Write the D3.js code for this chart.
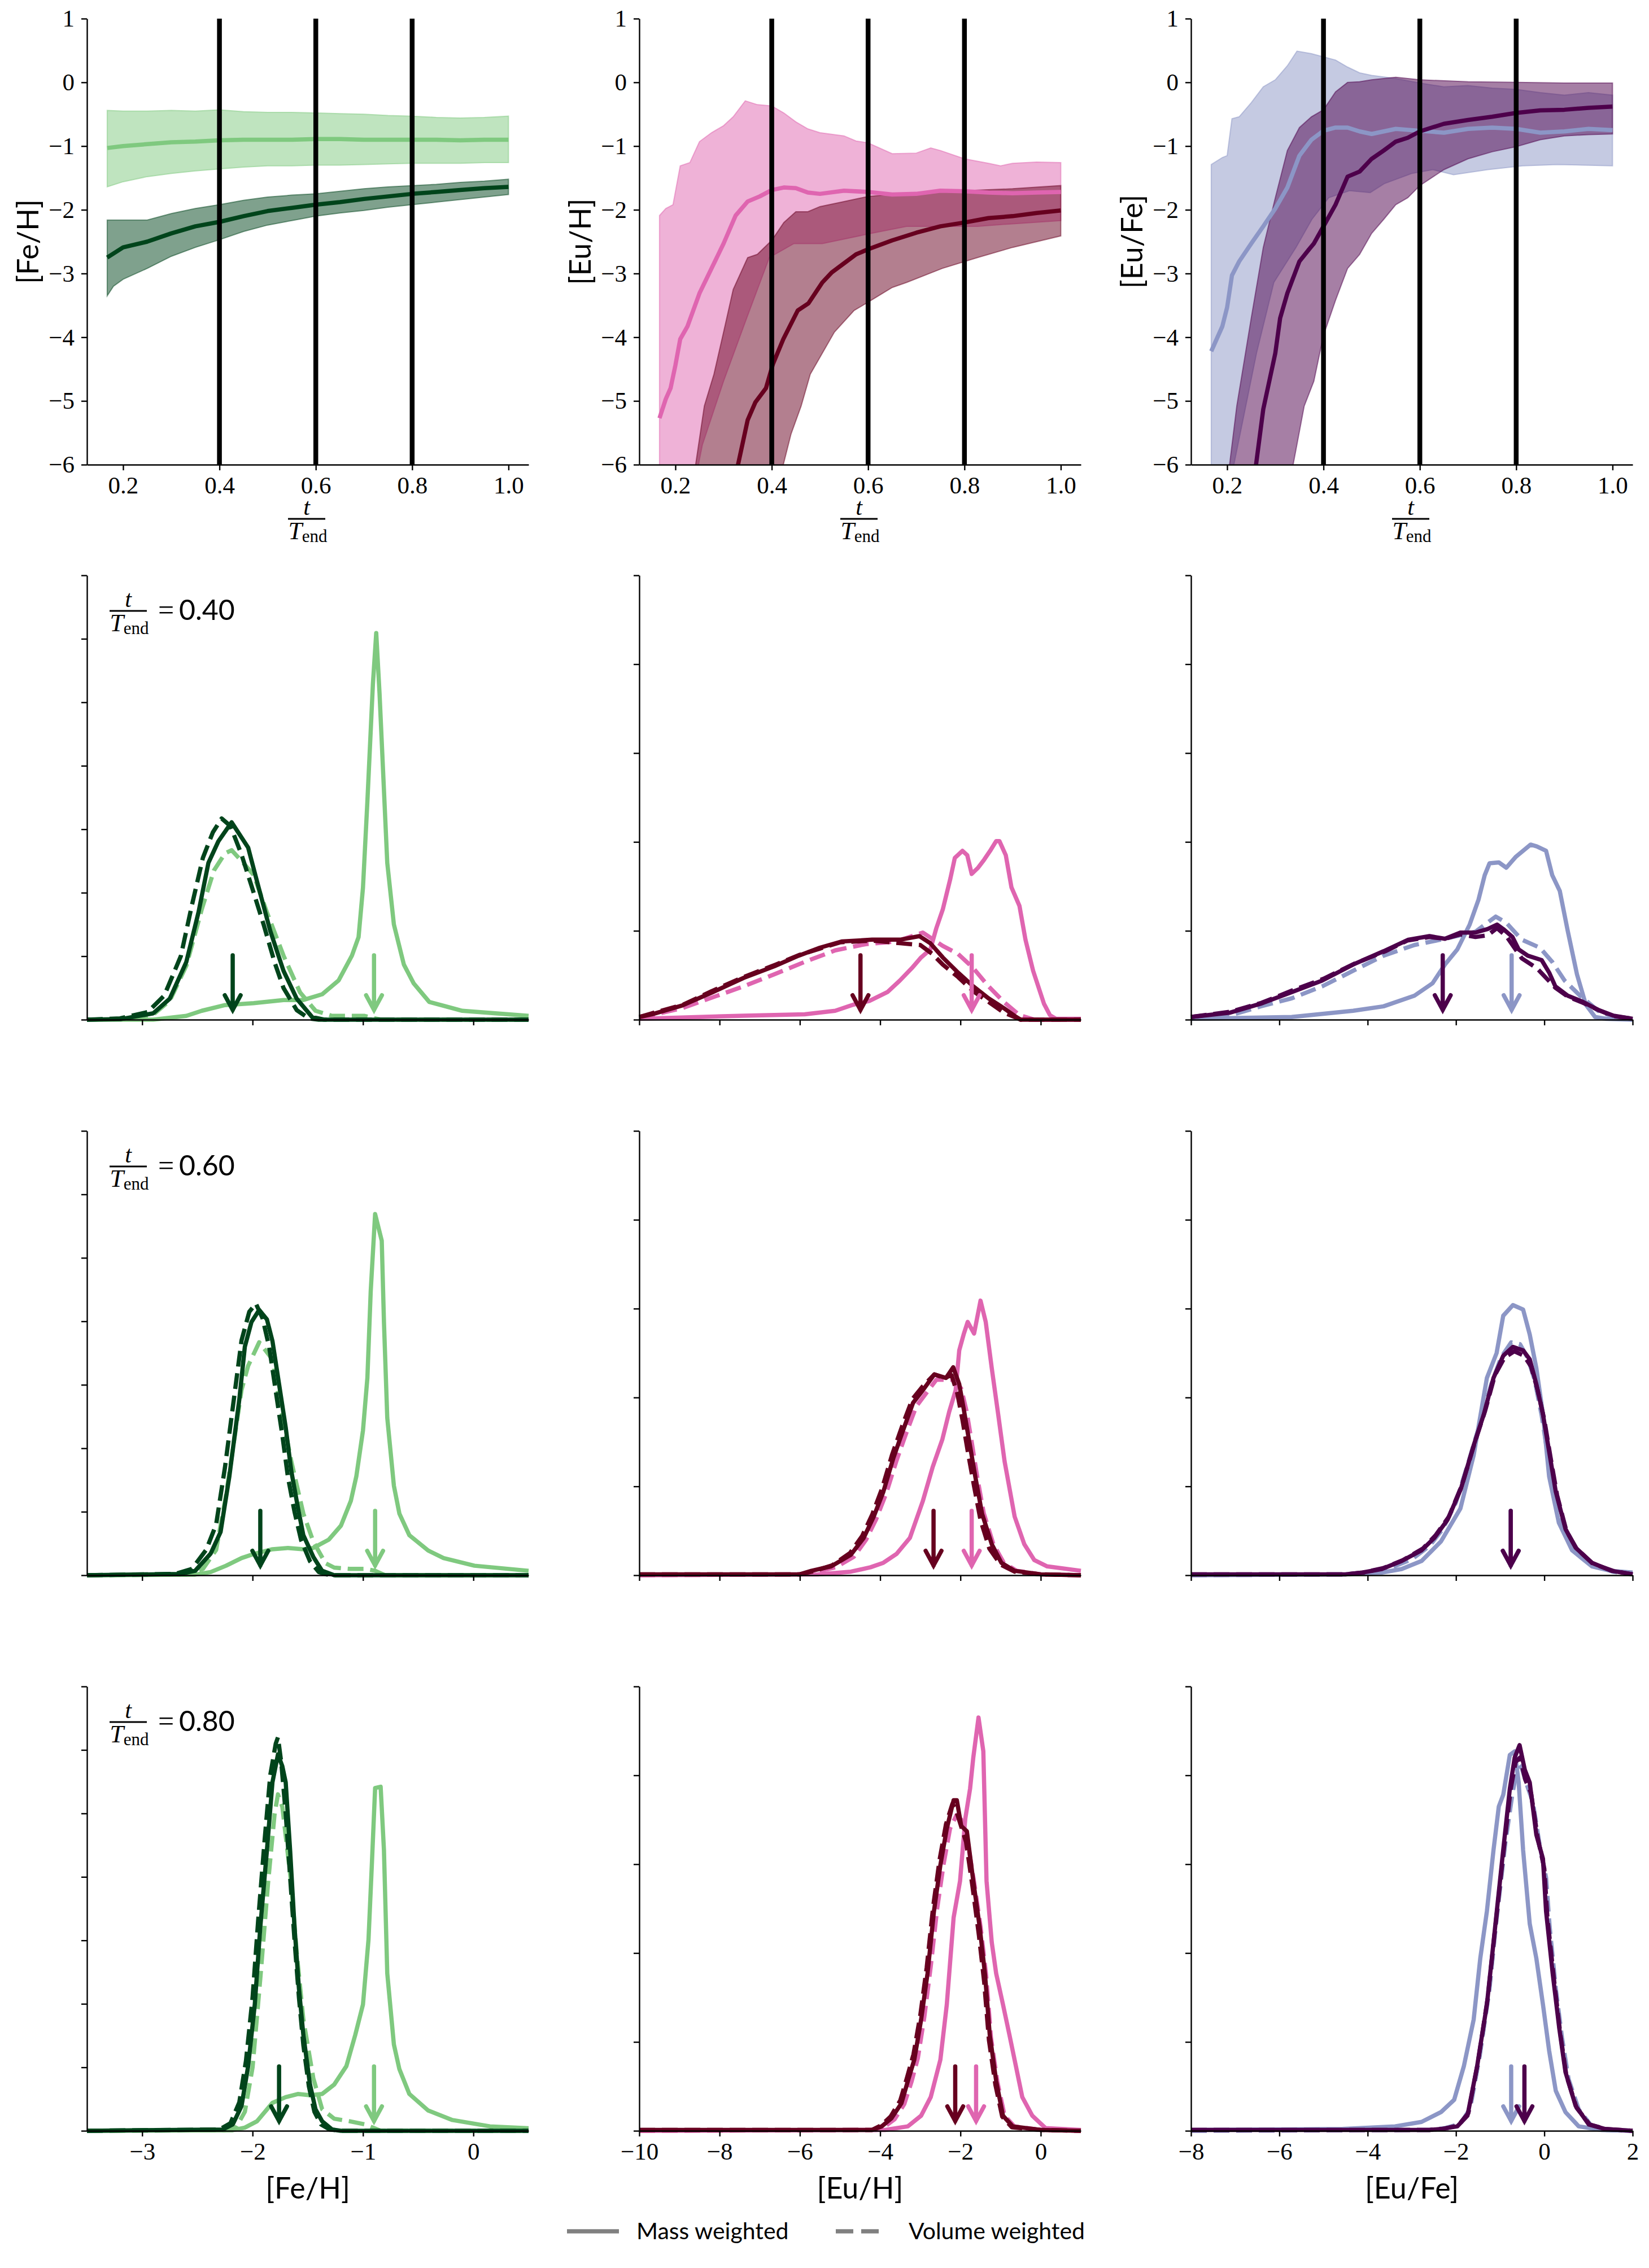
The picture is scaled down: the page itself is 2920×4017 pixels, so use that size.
<!DOCTYPE html>
<html>
<head>
<meta charset="utf-8">
<script src="https://cdn.jsdelivr.net/npm/d3@7"></script>
<style>
  body { margin: 0; background: #fff; }
</style>
</head>
<body>
<script>
// ---------- layout ----------
const W = 2920, H = 4017;
const colX = [154, 1132, 2109], panelW = 782;
const topY = 33, topH = 790;
const histY = [1019, 2003, 2987], histH = 787;
const SERIF = "'Liberation Serif', 'DejaVu Serif', serif";
const SANS = "Lato, 'Open Sans', sans-serif";

// ---------- colours ----------
const feLightC = "#7fc97f", feDarkC = "#00441b";
const euhLightC = "#df65b0", euhDarkC = "#67001f";
const eufeLightC = "#8c96c6", eufeDarkC = "#4d004b";

// ---------- top row: time evolution (t/Tend, value) ----------
const snapTimes = [0.4, 0.6, 0.8];
const tTicks = [0.2, 0.4, 0.6, 0.8, 1.0];
const topYTicks = [-6, -5, -4, -3, -2, -1, 0, 1];

const feLightMed = [[0.167,-1.03],[0.2,-1.0],[0.25,-0.97],[0.3,-0.94],[0.35,-0.93],[0.4,-0.91],[0.45,-0.9],[0.5,-0.9],[0.55,-0.9],[0.6,-0.89],[0.65,-0.89],[0.7,-0.9],[0.75,-0.9],[0.8,-0.9],[0.85,-0.9],[0.9,-0.91],[0.95,-0.9],[1.0,-0.9]];
const feLightHi = [[0.167,-0.44],[0.2,-0.45],[0.25,-0.45],[0.3,-0.44],[0.35,-0.45],[0.4,-0.43],[0.45,-0.46],[0.5,-0.47],[0.55,-0.47],[0.6,-0.48],[0.65,-0.49],[0.7,-0.5],[0.75,-0.52],[0.8,-0.53],[0.85,-0.55],[0.9,-0.56],[0.95,-0.55],[1.0,-0.53]];
const feLightLo = [[0.167,-1.64],[0.2,-1.56],[0.25,-1.48],[0.3,-1.43],[0.35,-1.39],[0.4,-1.36],[0.45,-1.33],[0.5,-1.31],[0.55,-1.31],[0.6,-1.30],[0.65,-1.30],[0.7,-1.29],[0.75,-1.28],[0.8,-1.27],[0.85,-1.27],[0.9,-1.27],[0.95,-1.26],[1.0,-1.26]];
const feDarkMed = [[0.167,-2.75],[0.2,-2.59],[0.25,-2.50],[0.3,-2.37],[0.35,-2.26],[0.4,-2.19],[0.45,-2.10],[0.5,-2.02],[0.55,-1.97],[0.6,-1.92],[0.65,-1.88],[0.7,-1.83],[0.75,-1.79],[0.8,-1.75],[0.85,-1.72],[0.9,-1.69],[0.95,-1.66],[1.0,-1.64]];
const feDarkHi = [[0.167,-2.16],[0.2,-2.16],[0.25,-2.16],[0.3,-2.06],[0.35,-1.98],[0.4,-1.92],[0.45,-1.85],[0.5,-1.80],[0.55,-1.77],[0.6,-1.75],[0.65,-1.71],[0.7,-1.67],[0.75,-1.64],[0.8,-1.62],[0.85,-1.60],[0.9,-1.57],[0.95,-1.55],[1.0,-1.52]];
const feDarkLo = [[0.167,-3.35],[0.18,-3.2],[0.2,-3.09],[0.25,-2.92],[0.3,-2.73],[0.35,-2.59],[0.4,-2.47],[0.45,-2.34],[0.5,-2.24],[0.55,-2.17],[0.6,-2.10],[0.65,-2.05],[0.7,-2.01],[0.75,-1.96],[0.8,-1.92],[0.85,-1.88],[0.9,-1.84],[0.95,-1.80],[1.0,-1.76]];

const euhLightMed = [[0.167,-5.27],[0.18,-4.97],[0.19,-4.80],[0.2,-4.44],[0.21,-4.03],[0.225,-3.83],[0.25,-3.31],[0.275,-2.92],[0.3,-2.53],[0.325,-2.09],[0.35,-1.87],[0.375,-1.79],[0.4,-1.69],[0.425,-1.65],[0.45,-1.66],[0.475,-1.73],[0.5,-1.75],[0.55,-1.70],[0.6,-1.72],[0.65,-1.76],[0.7,-1.75],[0.75,-1.70],[0.8,-1.71],[0.85,-1.73],[0.9,-1.74],[0.95,-1.73],[1.0,-1.72]];
const euhLightHi = [[0.167,-2.09],[0.18,-1.98],[0.195,-1.92],[0.21,-1.31],[0.23,-1.26],[0.25,-0.93],[0.275,-0.79],[0.3,-0.68],[0.32,-0.54],[0.345,-0.29],[0.37,-0.35],[0.4,-0.37],[0.425,-0.48],[0.45,-0.62],[0.475,-0.73],[0.5,-0.79],[0.55,-0.84],[0.575,-0.92],[0.6,-0.95],[0.65,-1.12],[0.7,-1.11],[0.73,-1.03],[0.75,-1.07],[0.8,-1.20],[0.85,-1.27],[0.875,-1.31],[0.9,-1.27],[0.95,-1.25],[1.0,-1.26]];
const euhLightLo = [[0.167,-7],[0.24,-6.3],[0.256,-5.69],[0.3,-4.69],[0.348,-3.70],[0.395,-2.75],[0.446,-2.53],[0.505,-2.53],[0.607,-2.37],[0.68,-2.26],[0.827,-2.26],[0.9,-2.22],[1.0,-2.17]];
const euhDarkMed = [[0.325,-6.3],[0.33,-6],[0.35,-5.3],[0.366,-5.02],[0.388,-4.80],[0.4025,-4.42],[0.424,-4.03],[0.454,-3.58],[0.476,-3.47],[0.505,-3.14],[0.525,-2.98],[0.55,-2.84],[0.575,-2.70],[0.6,-2.62],[0.65,-2.48],[0.7,-2.36],[0.75,-2.26],[0.8,-2.20],[0.85,-2.13],[0.9,-2.10],[0.95,-2.05],[1.0,-2.01]];
const euhDarkHi = [[0.235,-6.5],[0.242,-6],[0.26,-5.08],[0.28,-4.58],[0.3,-3.92],[0.32,-3.25],[0.35,-2.75],[0.37,-2.70],[0.4,-2.48],[0.425,-2.20],[0.45,-2.03],[0.475,-2.03],[0.5,-1.95],[0.55,-1.87],[0.6,-1.79],[0.7,-1.73],[0.8,-1.70],[0.9,-1.67],[1.0,-1.62]];
const euhDarkLo = [[0.42,-6.5],[0.424,-6],[0.44,-5.52],[0.461,-5.08],[0.48,-4.58],[0.505,-4.25],[0.53,-3.92],[0.571,-3.58],[0.6,-3.45],[0.65,-3.22],[0.68,-3.14],[0.754,-2.92],[0.827,-2.75],[0.9,-2.59],[1.0,-2.41]];

const eufeLightMed = [[0.167,-4.22],[0.19,-3.83],[0.2,-3.53],[0.21,-3.03],[0.225,-2.81],[0.25,-2.53],[0.275,-2.26],[0.3,-1.98],[0.325,-1.65],[0.35,-1.15],[0.375,-0.90],[0.4,-0.76],[0.425,-0.71],[0.45,-0.71],[0.475,-0.77],[0.5,-0.81],[0.55,-0.73],[0.6,-0.76],[0.65,-0.79],[0.7,-0.73],[0.75,-0.71],[0.8,-0.73],[0.85,-0.79],[0.9,-0.77],[0.95,-0.73],[1.0,-0.75]];
const eufeLightHi = [[0.167,-1.29],[0.19,-1.18],[0.2,-1.15],[0.21,-0.57],[0.225,-0.54],[0.25,-0.32],[0.275,-0.07],[0.3,0.04],[0.325,0.26],[0.345,0.49],[0.375,0.45],[0.4,0.40],[0.425,0.35],[0.45,0.24],[0.475,0.15],[0.5,0.11],[0.55,0.06],[0.6,-0.01],[0.65,-0.07],[0.7,-0.05],[0.75,-0.09],[0.8,-0.11],[0.85,-0.16],[0.9,-0.20],[0.95,-0.16],[1.0,-0.20]];
const eufeLightLo = [[0.167,-7],[0.21,-6.3],[0.214,-6],[0.261,-4.25],[0.297,-3.14],[0.343,-2.59],[0.376,-2.15],[0.411,-1.81],[0.454,-1.70],[0.497,-1.73],[0.526,-1.59],[0.583,-1.43],[0.627,-1.37],[0.67,-1.45],[0.741,-1.37],[0.813,-1.31],[0.885,-1.29],[1.0,-1.31]];
const eufeDarkMed = [[0.255,-6.3],[0.26,-6],[0.275,-5.13],[0.3,-4.25],[0.31,-3.70],[0.325,-3.31],[0.35,-2.81],[0.37,-2.62],[0.38,-2.53],[0.4,-2.26],[0.425,-1.92],[0.45,-1.48],[0.475,-1.40],[0.5,-1.20],[0.525,-1.07],[0.55,-0.93],[0.575,-0.87],[0.6,-0.77],[0.65,-0.65],[0.7,-0.59],[0.75,-0.54],[0.8,-0.48],[0.85,-0.44],[0.9,-0.43],[0.95,-0.40],[1.0,-0.38]];
const eufeDarkHi = [[0.2,-6.5],[0.205,-6],[0.22,-5.08],[0.25,-3.70],[0.275,-2.59],[0.3,-1.81],[0.325,-1.07],[0.35,-0.71],[0.375,-0.54],[0.4,-0.43],[0.425,-0.15],[0.45,0.0],[0.475,0.01],[0.5,0.04],[0.55,0.08],[0.6,0.04],[0.7,0.01],[0.8,0.0],[0.9,-0.01],[1.0,-0.01]];
const eufeDarkLo = [[0.335,-6.5],[0.337,-6],[0.36,-5.08],[0.38,-4.69],[0.4,-3.97],[0.425,-3.42],[0.45,-2.92],[0.475,-2.70],[0.5,-2.37],[0.525,-2.15],[0.55,-1.92],[0.575,-1.81],[0.6,-1.62],[0.65,-1.37],[0.7,-1.20],[0.75,-1.09],[0.8,-1.01],[0.85,-0.90],[0.9,-0.84],[0.95,-0.82],[1.0,-0.81]];

// ---------- histograms: (value, density in tick units) ----------
const histXDomains = [[-3.5, 0.5], [-10, 1], [-8, 2]];
const histXTicks = [[-3, -2, -1, 0], [-10, -8, -6, -4, -2, 0], [-8, -6, -4, -2, 0, 2]];
const histYTop = [7, 5, 5];
const snapLabels = ["0.40", "0.60", "0.80"];
const histXLabels = ["[Fe/H]", "[Eu/H]", "[Eu/Fe]"];

// [Fe/H], t = 0.40
const fe40LightMass = [[-3.5,0],[-2.9,0],[-2.6,0.06],[-2.46,0.14],[-2.25,0.23],[-1.99,0.26],[-1.72,0.31],[-1.54,0.31],[-1.37,0.40],[-1.22,0.62],[-1.10,1.01],[-1.04,1.30],[-1.0,2.08],[-0.96,3.44],[-0.91,5.29],[-0.88,6.09],[-0.85,5.14],[-0.78,2.47],[-0.72,1.5],[-0.63,0.87],[-0.54,0.57],[-0.40,0.28],[-0.10,0.14],[0.5,0.06]];
const fe40LightVol = [[-3.5,0],[-3.2,0.01],[-2.9,0.08],[-2.75,0.3],[-2.6,0.85],[-2.46,1.74],[-2.35,2.35],[-2.25,2.62],[-2.19,2.67],[-2.1,2.5],[-1.99,2.28],[-1.87,1.69],[-1.72,1.01],[-1.57,0.43],[-1.43,0.14],[-1.28,0.06],[-0.99,0.06],[-0.84,0],[0.5,0]];
const fe40DarkMass = [[-3.5,0],[-3.19,0.01],[-2.9,0.1],[-2.75,0.33],[-2.6,0.91],[-2.49,1.69],[-2.40,2.47],[-2.31,2.81],[-2.19,3.11],[-2.04,2.71],[-1.96,2.18],[-1.84,1.40],[-1.72,0.77],[-1.60,0.33],[-1.46,0.04],[-1.35,0],[0.5,0]];
const fe40DarkVol = [[-3.5,0],[-3.2,0.02],[-2.95,0.12],[-2.8,0.38],[-2.65,1.0],[-2.55,1.8],[-2.45,2.55],[-2.36,2.95],[-2.28,3.17],[-2.2,3.05],[-2.1,2.6],[-1.99,2.0],[-1.9,1.5],[-1.8,0.9],[-1.72,0.5],[-1.6,0.15],[-1.49,0.02],[-1.4,0],[0.5,0]];
const fe40Medians = [-2.18, -0.90];

// [Fe/H], t = 0.60
const fe60LightMass = [[-3.5,0],[-2.52,0.01],[-2.38,0.05],[-2.24,0.15],[-2.10,0.27],[-1.98,0.34],[-1.82,0.41],[-1.68,0.43],[-1.54,0.41],[-1.45,0.43],[-1.31,0.56],[-1.20,0.78],[-1.11,1.17],[-1.06,1.56],[-1.00,2.28],[-0.96,3.11],[-0.93,4.47],[-0.89,5.69],[-0.83,5.27],[-0.81,3.99],[-0.78,2.48],[-0.72,1.41],[-0.67,0.97],[-0.58,0.63],[-0.41,0.39],[-0.27,0.27],[0.01,0.15],[0.5,0.07]];
const fe60LightVol = [[-3.5,0],[-2.6,0.01],[-2.45,0.1],[-2.33,0.4],[-2.24,1.26],[-2.10,2.92],[-2.04,3.3],[-1.94,3.67],[-1.82,3.40],[-1.76,2.77],[-1.65,1.80],[-1.54,0.97],[-1.45,0.53],[-1.34,0.19],[-1.26,0.12],[-1.12,0.1],[-0.975,0.1],[-0.89,0.07],[-0.8,0],[0.5,0]];
const fe60DarkMass = [[-3.5,0],[-2.66,0.02],[-2.52,0.07],[-2.38,0.34],[-2.29,0.68],[-2.21,1.56],[-2.12,2.77],[-2.07,3.60],[-2.01,3.99],[-1.94,4.18],[-1.87,4.03],[-1.82,3.69],[-1.76,3.01],[-1.70,2.33],[-1.65,1.65],[-1.59,1.07],[-1.54,0.63],[-1.45,0.29],[-1.37,0.07],[-1.26,0],[0.5,0]];
const fe60DarkVol = [[-3.5,0],[-2.7,0.02],[-2.55,0.1],[-2.42,0.4],[-2.33,0.8],[-2.25,1.7],[-2.16,2.9],[-2.1,3.7],[-2.03,4.15],[-1.97,4.28],[-1.91,4.05],[-1.85,3.6],[-1.79,2.9],[-1.73,2.2],[-1.68,1.55],[-1.62,1.0],[-1.56,0.55],[-1.48,0.22],[-1.4,0.05],[-1.3,0],[0.5,0]];
const fe60Medians = [-1.93, -0.89];

// [Fe/H], t = 0.80
const fe80LightMass = [[-3.5,0],[-2.18,0.01],[-2.07,0.05],[-1.96,0.15],[-1.82,0.44],[-1.70,0.53],[-1.59,0.58],[-1.48,0.56],[-1.37,0.58],[-1.26,0.73],[-1.15,1.02],[-1.07,1.51],[-1.00,1.99],[-0.95,3.01],[-0.92,4.18],[-0.89,5.40],[-0.84,5.42],[-0.81,4.42],[-0.78,2.48],[-0.72,1.36],[-0.67,0.97],[-0.58,0.58],[-0.41,0.32],[-0.19,0.17],[0.15,0.07],[0.5,0.04]];
const fe80LightVol = [[-3.5,0],[-2.25,0.01],[-2.15,0.05],[-2.07,0.3],[-2.0,1.0],[-1.93,2.4],[-1.86,3.9],[-1.8,5.0],[-1.77,5.30],[-1.73,5.1],[-1.65,3.9],[-1.6,2.8],[-1.54,1.75],[-1.45,0.83],[-1.37,0.34],[-1.26,0.19],[-1.12,0.15],[-0.98,0.10],[-0.84,0],[0.5,0]];
const fe80DarkMass = [[-3.5,0],[-2.27,0.02],[-2.18,0.10],[-2.10,0.39],[-2.04,1.02],[-1.98,1.99],[-1.93,3.21],[-1.87,4.42],[-1.82,5.49],[-1.77,5.93],[-1.73,5.74],[-1.70,5.49],[-1.66,4.42],[-1.62,3.21],[-1.58,2.24],[-1.54,1.51],[-1.48,0.73],[-1.43,0.34],[-1.37,0.15],[-1.28,0.02],[-1.2,0],[0.5,0]];
const fe80DarkVol = [[-3.5,0],[-2.3,0.02],[-2.2,0.12],[-2.12,0.45],[-2.06,1.1],[-2.0,2.1],[-1.95,3.3],[-1.89,4.6],[-1.84,5.6],[-1.79,6.1],[-1.77,6.2],[-1.74,5.8],[-1.7,5.0],[-1.66,4.0],[-1.62,3.0],[-1.58,2.1],[-1.54,1.35],[-1.49,0.7],[-1.44,0.3],[-1.38,0.1],[-1.3,0.02],[-1.2,0],[0.5,0]];
const fe80Medians = [-1.76, -0.90];

// [Eu/H], t = 0.40
const euh40LightMass = [[-10,0.01],[-7.40,0.045],[-5.88,0.06],[-5.12,0.10],[-4.66,0.17],[-4.27,0.21],[-3.82,0.31],[-3.51,0.44],[-3.21,0.58],[-2.98,0.70],[-2.75,0.79],[-2.60,1.03],[-2.44,1.24],[-2.25,1.59],[-2.14,1.82],[-1.95,1.90],[-1.83,1.85],[-1.72,1.64],[-1.56,1.71],[-1.41,1.80],[-1.26,1.90],[-1.11,2.01],[-1.03,2.01],[-0.87,1.85],[-0.73,1.49],[-0.53,1.28],[-0.38,0.90],[-0.19,0.55],[0.08,0.18],[0.23,0.05],[0.38,0.01],[1,0.01]];
const euh40LightVol = [[-10,0.02],[-8.93,0.13],[-7.40,0.375],[-6.64,0.51],[-5.88,0.65],[-5.12,0.78],[-4.36,0.85],[-3.6,0.88],[-2.94,0.98],[-2.44,0.83],[-2.06,0.74],[-1.68,0.58],[-1.30,0.375],[-0.92,0.2],[-0.53,0.05],[-0.15,0],[1,0]];
const euh40DarkMass = [[-10,0.03],[-9.69,0.06],[-8.93,0.16],[-8.17,0.31],[-7.40,0.47],[-6.64,0.60],[-6.03,0.72],[-5.50,0.81],[-4.96,0.88],[-4.2,0.90],[-3.5,0.90],[-3.02,0.94],[-2.75,0.86],[-2.44,0.70],[-2.06,0.53],[-1.68,0.375],[-1.30,0.24],[-0.92,0.13],[-0.61,0.03],[-0.5,0],[1,0]];
const euh40DarkVol = [[-10,0.03],[-9.7,0.07],[-8.9,0.17],[-8.2,0.32],[-7.4,0.48],[-6.6,0.62],[-6.0,0.73],[-5.5,0.80],[-5.0,0.87],[-4.2,0.89],[-3.5,0.86],[-3.0,0.84],[-2.7,0.74],[-2.44,0.62],[-2.06,0.48],[-1.68,0.32],[-1.3,0.20],[-0.92,0.08],[-0.6,0.02],[-0.5,0],[1,0]];
const euh40Medians = [-4.49, -1.72];

// [Eu/H], t = 0.60
const euh60LightMass = [[-10,0],[-5.55,0.01],[-4.73,0.04],[-4.24,0.09],[-3.92,0.14],[-3.59,0.24],[-3.26,0.42],[-2.94,0.83],[-2.69,1.22],[-2.45,1.53],[-2.28,1.84],[-2.12,2.08],[-2.03,2.53],[-1.92,2.71],[-1.82,2.85],[-1.66,2.72],[-1.50,3.09],[-1.37,2.85],[-1.22,2.33],[-1.06,1.81],[-0.90,1.28],[-0.65,0.66],[-0.41,0.35],[-0.16,0.17],[0.16,0.10],[1,0.05]];
const euh60LightVol = [[-10,0],[-6,0.01],[-5.6,0.04],[-5.1,0.09],[-4.65,0.21],[-4.35,0.40],[-4.1,0.63],[-3.85,0.92],[-3.6,1.28],[-3.35,1.6],[-3.1,1.9],[-2.85,2.05],[-2.6,2.2],[-2.35,2.2],[-2.15,2.2],[-1.98,2.1],[-1.85,1.85],[-1.72,1.5],[-1.58,1.1],[-1.42,0.7],[-1.18,0.35],[-0.92,0.14],[-0.6,0.05],[0,0.01],[1,0]];
const euh60DarkMass = [[-10,0.01],[-6,0.01],[-5.71,0.05],[-5.22,0.10],[-4.73,0.23],[-4.41,0.42],[-4.16,0.66],[-3.92,0.94],[-3.67,1.32],[-3.43,1.63],[-3.18,1.94],[-2.94,2.08],[-2.65,2.26],[-2.36,2.22],[-2.18,2.34],[-2.03,2.15],[-1.92,1.875],[-1.79,1.53],[-1.63,1.11],[-1.46,0.69],[-1.22,0.35],[-0.98,0.14],[-0.65,0.05],[0,0.01],[1,0]];
const euh60DarkVol = [[-10,0.01],[-6,0.01],[-5.7,0.04],[-5.2,0.11],[-4.75,0.25],[-4.45,0.44],[-4.2,0.68],[-3.95,0.98],[-3.7,1.36],[-3.45,1.68],[-3.2,1.98],[-2.95,2.12],[-2.65,2.26],[-2.4,2.22],[-2.22,2.25],[-2.08,2.05],[-1.95,1.75],[-1.82,1.40],[-1.66,1.0],[-1.5,0.62],[-1.28,0.3],[-1.0,0.12],[-0.65,0.04],[0,0.01],[1,0]];
const euh60Medians = [-2.67, -1.72];

// [Eu/H], t = 0.80
const euh80LightMass = [[-10,0],[-3.88,0.01],[-3.31,0.05],[-2.98,0.17],[-2.74,0.38],[-2.50,0.80],[-2.34,1.42],[-2.17,2.40],[-2.01,2.81],[-1.88,3.51],[-1.76,3.85],[-1.68,4.20],[-1.55,4.65],[-1.43,4.27],[-1.35,2.81],[-1.22,2.12],[-1.11,1.77],[-0.94,1.42],[-0.78,1.08],[-0.62,0.73],[-0.46,0.38],[-0.21,0.17],[0.12,0.03],[1,0.01]];
const euh80LightVol = [[-10,0],[-4.1,0.01],[-3.88,0.05],[-3.64,0.13],[-3.4,0.3],[-3.22,0.55],[-3.06,0.82],[-2.9,1.28],[-2.74,1.85],[-2.58,2.5],[-2.42,3.0],[-2.26,3.4],[-2.1,3.55],[-1.98,3.5],[-1.84,3.3],[-1.66,2.8],[-1.5,2.3],[-1.36,1.75],[-1.24,1.05],[-1.08,0.55],[-0.9,0.17],[-0.66,0.05],[0,0.01],[1,0]];
const euh80DarkMass = [[-10,0.01],[-4.2,0.01],[-3.96,0.05],[-3.72,0.14],[-3.47,0.31],[-3.31,0.56],[-3.15,0.80],[-2.98,1.25],[-2.82,1.77],[-2.66,2.47],[-2.50,2.99],[-2.34,3.40],[-2.17,3.72],[-2.09,3.72],[-1.98,3.43],[-1.84,3.37],[-1.68,2.81],[-1.52,2.29],[-1.39,1.77],[-1.27,1.08],[-1.11,0.56],[-0.94,0.17],[-0.70,0.05],[0,0.01],[1,0]];
const euh80DarkVol = [[-10,0.01],[-4.2,0.01],[-3.98,0.06],[-3.74,0.16],[-3.5,0.34],[-3.33,0.6],[-3.17,0.86],[-3.0,1.3],[-2.84,1.84],[-2.68,2.52],[-2.52,3.05],[-2.36,3.45],[-2.2,3.68],[-2.12,3.62],[-2.0,3.45],[-1.86,3.25],[-1.7,2.75],[-1.54,2.2],[-1.41,1.68],[-1.29,1.02],[-1.13,0.52],[-0.96,0.16],[-0.72,0.04],[0,0.01],[1,0]];
const euh80Medians = [-2.13, -1.61];

// [Eu/Fe], t = 0.40
const eufe40LightMass = [[-8,0.01],[-5.72,0.03],[-4.33,0.10],[-3.64,0.15],[-2.94,0.27],[-2.53,0.41],[-2.25,0.62],[-1.97,0.79],[-1.69,1.07],[-1.49,1.35],[-1.35,1.625],[-1.24,1.76],[-1.03,1.77],[-0.86,1.71],[-0.65,1.83],[-0.31,1.97],[-0.17,1.95],[0.04,1.90],[0.18,1.625],[0.35,1.45],[0.53,1.0],[0.74,0.51],[0.94,0.17],[1.15,0.03],[1.4,0.01],[2,0]];
const eufe40LightVol = [[-8,0.01],[-7.1,0.05],[-6.42,0.15],[-5.72,0.24],[-5.03,0.375],[-4.33,0.55],[-3.64,0.72],[-2.94,0.84],[-2.25,0.91],[-1.56,0.99],[-1.10,1.16],[-0.86,1.09],[-0.51,0.90],[-0.10,0.81],[0.18,0.65],[0.46,0.44],[0.81,0.27],[1.22,0.1],[1.57,0.03],[2,0]];
const eufe40DarkMass = [[-8,0.03],[-7.11,0.08],[-6.42,0.18],[-5.72,0.31],[-5.03,0.44],[-4.33,0.62],[-3.64,0.77],[-3.08,0.90],[-2.60,0.94],[-2.25,0.91],[-1.90,0.98],[-1.56,0.98],[-1.28,1.02],[-1.07,1.07],[-0.93,1.02],[-0.72,0.93],[-0.58,0.79],[-0.375,0.72],[-0.06,0.67],[0.11,0.53],[0.25,0.375],[0.53,0.27],[0.875,0.2],[1.22,0.11],[1.57,0.045],[2,0.01]];
const eufe40DarkVol = [[-8,0.03],[-7.1,0.09],[-6.4,0.19],[-5.7,0.33],[-5.0,0.46],[-4.3,0.63],[-3.6,0.77],[-3.1,0.89],[-2.6,0.93],[-2.25,0.91],[-1.9,0.96],[-1.56,0.93],[-1.28,0.95],[-1.07,1.03],[-0.86,0.94],[-0.51,0.69],[-0.17,0.58],[0.25,0.36],[0.53,0.26],[0.875,0.19],[1.22,0.11],[1.57,0.04],[2,0.01]];
const eufe40Medians = [-2.30, -0.74];

// [Eu/Fe], t = 0.60
const eufe60LightMass = [[-8,0],[-4.5,0.01],[-3.68,0.03],[-3.23,0.07],[-2.78,0.16],[-2.34,0.38],[-1.90,0.75],[-1.60,1.35],[-1.30,2.22],[-1.08,2.5],[-0.93,2.92],[-0.71,3.04],[-0.48,2.99],[-0.33,2.71],[-0.18,2.33],[-0.03,1.81],[0.11,1.11],[0.33,0.59],[0.63,0.28],[1.08,0.10],[1.5,0.05],[2,0.03]];
const eufe60LightVol = [[-8,0],[-4.5,0.01],[-4.0,0.03],[-3.5,0.08],[-3.0,0.18],[-2.6,0.33],[-2.3,0.52],[-2.0,0.82],[-1.7,1.3],[-1.45,1.72],[-1.2,2.15],[-0.98,2.45],[-0.75,2.62],[-0.55,2.6],[-0.38,2.45],[-0.22,2.2],[-0.06,1.8],[0.08,1.35],[0.24,0.9],[0.45,0.5],[0.7,0.28],[1.1,0.12],[1.55,0.04],[2,0.01]];
const eufe60DarkMass = [[-8,0.01],[-4.5,0.01],[-4.12,0.03],[-3.68,0.07],[-3.23,0.16],[-2.78,0.28],[-2.49,0.42],[-2.19,0.625],[-1.89,0.97],[-1.60,1.46],[-1.37,1.81],[-1.15,2.22],[-0.93,2.47],[-0.71,2.57],[-0.48,2.53],[-0.33,2.43],[-0.18,2.15],[-0.03,1.81],[0.11,1.39],[0.26,0.94],[0.48,0.52],[0.71,0.31],[1.08,0.14],[1.52,0.05],[2,0.01]];
const eufe60DarkVol = [[-8,0.01],[-4.5,0.01],[-4.1,0.03],[-3.65,0.08],[-3.2,0.17],[-2.75,0.3],[-2.46,0.45],[-2.16,0.66],[-1.86,1.02],[-1.57,1.5],[-1.34,1.85],[-1.12,2.25],[-0.9,2.45],[-0.68,2.52],[-0.46,2.47],[-0.3,2.35],[-0.15,2.08],[0.0,1.75],[0.14,1.33],[0.29,0.9],[0.5,0.5],[0.73,0.3],[1.1,0.13],[1.55,0.05],[2,0.01]];
const eufe60Medians = [-0.76, -0.76];

// [Eu/Fe], t = 0.80
const eufe80LightMass = [[-8,0.01],[-4.57,0.02],[-3.38,0.05],[-2.78,0.10],[-2.34,0.21],[-2.04,0.35],[-1.82,0.73],[-1.60,1.25],[-1.45,1.94],[-1.30,2.47],[-1.15,3.16],[-1.03,3.65],[-0.93,3.78],[-0.78,4.23],[-0.67,4.27],[-0.58,3.92],[-0.48,3.16],[-0.33,2.33],[-0.18,1.94],[-0.03,1.42],[0.11,0.90],[0.26,0.45],[0.48,0.21],[0.78,0.05],[1.3,0.01],[2,0]];
const eufe80LightVol = [[-8,0],[-2.6,0.01],[-2.25,0.03],[-1.9,0.08],[-1.68,0.25],[-1.46,0.85],[-1.24,1.6],[-1.1,2.3],[-0.88,3.25],[-0.72,3.8],[-0.62,4.05],[-0.52,4.1],[-0.4,3.9],[-0.26,3.7],[-0.1,3.2],[0.04,2.85],[0.12,2.3],[0.26,1.6],[0.4,1.05],[0.55,0.58],[0.78,0.24],[1.06,0.06],[1.4,0.01],[2,0]];
const eufe80DarkMass = [[-8,0.01],[-2.6,0.01],[-2.34,0.02],[-1.97,0.05],[-1.74,0.17],[-1.52,0.73],[-1.30,1.42],[-1.15,2.12],[-0.93,3.16],[-0.78,3.85],[-0.67,4.20],[-0.56,4.34],[-0.44,4.06],[-0.33,3.92],[-0.18,3.33],[-0.03,3.06],[0.04,2.47],[0.19,1.77],[0.34,1.15],[0.48,0.66],[0.71,0.28],[1.01,0.07],[1.38,0.02],[2,0]];
const eufe80DarkVol = [[-8,0.01],[-2.6,0.01],[-2.3,0.02],[-1.95,0.06],[-1.72,0.2],[-1.5,0.78],[-1.28,1.5],[-1.13,2.2],[-0.91,3.2],[-0.76,3.85],[-0.65,4.15],[-0.55,4.2],[-0.43,3.95],[-0.3,3.8],[-0.15,3.3],[0.0,2.95],[0.07,2.4],[0.22,1.7],[0.36,1.1],[0.5,0.62],[0.73,0.26],[1.03,0.07],[1.4,0.02],[2,0]];
const eufe80Medians = [-0.45, -0.75];

// ---------- svg ----------
const svg = d3.select("body").append("svg")
  .attr("width", W).attr("height", H)
  .style("font-family", SANS);

function styleAxis(sel, fs) {
  sel.select(".domain").attr("stroke-width", 2.4);
  sel.selectAll(".tick line").attr("stroke-width", 2.4);
  sel.selectAll(".tick text").style("font-family", SERIF).style("font-size", fs + "px").attr("fill", "#000");
}

// t / T_end fraction
function fraction(g, cx, tBase, lineY, TBase) {
  g.append("text").attr("x", cx).attr("y", tBase).attr("text-anchor", "middle")
    .style("font-family", SERIF).style("font-style", "italic").style("font-size", "42px").text("t");
  g.append("line").attr("x1", cx - 33).attr("x2", cx + 33).attr("y1", lineY).attr("y2", lineY)
    .attr("stroke", "#000").attr("stroke-width", 3);
  let T = g.append("text").attr("x", cx + 2).attr("y", TBase).attr("text-anchor", "middle")
    .style("font-family", SERIF).style("font-size", "44px");
  T.append("tspan").style("font-style", "italic").text("T");
  T.append("tspan").attr("dy", 5).style("font-size", "31px").text("end");
}

// ---------- top row ----------
let topPanels = [
  {label: "[Fe/H]", bands: [
    {color: feLightC, med: feLightMed, lo: feLightLo, hi: feLightHi},
    {color: feDarkC, med: feDarkMed, lo: feDarkLo, hi: feDarkHi}]},
  {label: "[Eu/H]", bands: [
    {color: euhLightC, med: euhLightMed, lo: euhLightLo, hi: euhLightHi},
    {color: euhDarkC, med: euhDarkMed, lo: euhDarkLo, hi: euhDarkHi}]},
  {label: "[Eu/Fe]", bands: [
    {color: eufeLightC, med: eufeLightMed, lo: eufeLightLo, hi: eufeLightHi},
    {color: eufeDarkC, med: eufeDarkMed, lo: eufeDarkLo, hi: eufeDarkHi}]}
];

topPanels.forEach(function(p, ci) {
  let g = svg.append("g").attr("transform", `translate(${colX[ci]},${topY})`);
  let x = d3.scaleLinear().domain([0.125, 1.0417]).range([0, panelW]);
  let y = d3.scaleLinear().domain([-6, 1]).range([topH, 0]);

  g.append("clipPath").attr("id", "ctop" + ci)
    .append("rect").attr("width", panelW).attr("height", topH);
  let plot = g.append("g").attr("clip-path", `url(#ctop${ci})`);
  let line = d3.line().x(d => x(d[0])).y(d => y(d[1]));

  p.bands.forEach(function(b) {
    plot.append("path")
      .attr("d", line(b.hi.concat(b.lo.slice().reverse())) + "Z")
      .attr("fill", b.color).attr("fill-opacity", 0.5)
      .attr("stroke", b.color).attr("stroke-opacity", 0.5).attr("stroke-width", 2);
  });
  p.bands.forEach(function(b) {
    plot.append("path").attr("d", line(b.med))
      .attr("fill", "none").attr("stroke", b.color).attr("stroke-width", 7.5)
      .attr("stroke-linejoin", "round");
  });
  snapTimes.forEach(function(t) {
    plot.append("line").attr("x1", x(t)).attr("x2", x(t)).attr("y1", 0).attr("y2", topH)
      .attr("stroke", "#000").attr("stroke-width", 8.5);
  });

  let ax = g.append("g").call(d3.axisLeft(y).tickValues(topYTicks).tickFormat(d3.format("d"))
    .tickSize(10).tickSizeOuter(0).tickPadding(12));
  styleAxis(ax, 43);
  let bx = g.append("g").attr("transform", `translate(0,${topH})`)
    .call(d3.axisBottom(x).tickValues(tTicks).tickFormat(d3.format(".1f")).tickSize(10).tickSizeOuter(0).tickPadding(10));
  styleAxis(bx, 43);

  g.append("text").attr("transform", `translate(-86,${topH / 2}) rotate(-90)`)
    .attr("text-anchor", "middle").style("font-size", "52px").text(p.label);

  fraction(g, panelW / 2 - 2, 879, 886, 922);
});

// ---------- histogram rows ----------
const darkColors = [feDarkC, euhDarkC, eufeDarkC];
const lightColors = [feLightC, euhLightC, eufeLightC];
let histData = [
  [[fe40LightMass, fe40LightVol, fe40DarkMass, fe40DarkVol, fe40Medians],
   [euh40LightMass, euh40LightVol, euh40DarkMass, euh40DarkVol, euh40Medians],
   [eufe40LightMass, eufe40LightVol, eufe40DarkMass, eufe40DarkVol, eufe40Medians]],
  [[fe60LightMass, fe60LightVol, fe60DarkMass, fe60DarkVol, fe60Medians],
   [euh60LightMass, euh60LightVol, euh60DarkMass, euh60DarkVol, euh60Medians],
   [eufe60LightMass, eufe60LightVol, eufe60DarkMass, eufe60DarkVol, eufe60Medians]],
  [[fe80LightMass, fe80LightVol, fe80DarkMass, fe80DarkVol, fe80Medians],
   [euh80LightMass, euh80LightVol, euh80DarkMass, euh80DarkVol, euh80Medians],
   [eufe80LightMass, eufe80LightVol, eufe80DarkMass, eufe80DarkVol, eufe80Medians]]
];

histData.forEach(function(row, ri) {
  row.forEach(function(cell, ci) {
    let g = svg.append("g").attr("transform", `translate(${colX[ci]},${histY[ri]})`);
    let x = d3.scaleLinear().domain(histXDomains[ci]).range([0, panelW]);
    let y = d3.scaleLinear().domain([0, histYTop[ci]]).range([histH, 0]);
    let line = d3.line().x(d => x(d[0])).y(d => y(d[1]));
    let id = "ch" + ri + ci;
    g.append("clipPath").attr("id", id).append("rect")
      .attr("x", -4).attr("y", -10).attr("width", panelW + 8).attr("height", histH + 14);
    let plot = g.append("g").attr("clip-path", `url(#${id})`);

    let curves = [
      {d: cell[0], c: lightColors[ci], dash: null},
      {d: cell[1], c: lightColors[ci], dash: "28,12"},
      {d: cell[2], c: darkColors[ci], dash: null},
      {d: cell[3], c: darkColors[ci], dash: "28,12"}
    ];
    curves.forEach(function(cv) {
      plot.append("path").attr("d", line(cv.d))
        .attr("fill", "none").attr("stroke", cv.c).attr("stroke-width", 7.5)
        .attr("stroke-linejoin", "round")
        .attr("stroke-dasharray", cv.dash);
    });

    // median arrows (light first, dark on top)
    let meds = cell[4];
    [[meds[1], lightColors[ci]], [meds[0], darkColors[ci]]].forEach(function(a) {
      let ax0 = x(a[0]);
      let y0 = histH * (1 - 0.145), y1 = histH * (1 - 0.022);
      plot.append("path")
        .attr("d", `M${ax0},${y0}L${ax0},${y1}M${ax0 - 14},${y1 - 26}L${ax0},${y1}L${ax0 + 14},${y1 - 26}`)
        .attr("fill", "none").attr("stroke", a[1]).attr("stroke-width", 7.5)
        .attr("stroke-linecap", "round").attr("stroke-linejoin", "miter");
    });

    let yTicks = d3.range(0, histYTop[ci] + 1);
    let ax = g.append("g").call(d3.axisLeft(y).tickValues(yTicks).tickFormat("").tickSize(10).tickSizeOuter(0));
    styleAxis(ax, 43);
    let bAxis = d3.axisBottom(x).tickValues(histXTicks[ci]).tickSize(10).tickSizeOuter(0).tickPadding(10)
      .tickFormat(ri === 2 ? d3.format("d") : "");
    let bx = g.append("g").attr("transform", `translate(0,${histH})`).call(bAxis);
    styleAxis(bx, 43);

    if (ci === 0) {
      fraction(g, 73, 56, 63, 99);
      g.append("text").attr("x", 126).attr("y", 78)
        .style("font-family", SERIF).style("font-size", "50px").text("=");
      g.append("text").attr("x", 163).attr("y", 79)
        .style("font-size", "50px").text(snapLabels[ri]);
    }
    if (ri === 2) {
      g.append("text").attr("x", panelW / 2).attr("y", histH + 120)
        .attr("text-anchor", "middle").style("font-size", "52px").text(histXLabels[ci]);
    }
  });
});

// ---------- legend ----------
let leg = svg.append("g");
leg.append("line").attr("x1", 1004).attr("x2", 1096).attr("y1", 3952).attr("y2", 3952)
  .attr("stroke", "#808080").attr("stroke-width", 7.5);
leg.append("text").attr("x", 1127).attr("y", 3966).style("font-size", "41px").text("Mass weighted");
leg.append("line").attr("x1", 1480).attr("x2", 1568).attr("y1", 3952).attr("y2", 3952)
  .attr("stroke", "#808080").attr("stroke-width", 7.5).attr("stroke-dasharray", "31,14");
leg.append("text").attr("x", 1609).attr("y", 3966).style("font-size", "41px").text("Volume weighted");
</script>
</body>
</html>
